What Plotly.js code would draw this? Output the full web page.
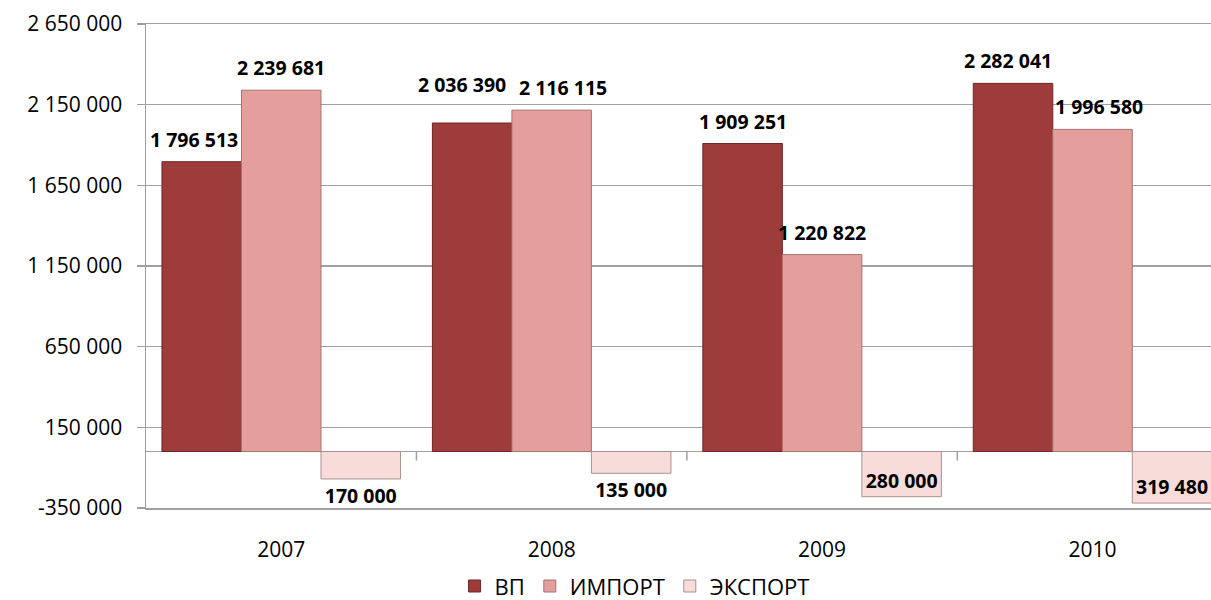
<!DOCTYPE html>
<html>
<head>
<meta charset="utf-8">
<script src="https://cdn.plot.ly/plotly-3.0.1.min.js"></script>
<style>html,body{margin:0;padding:0;background:#fff;}#chart{width:1211px;height:600px;}</style>
</head>
<body>
<div id="chart"></div>
<script>
var years = ["2007", "2008", "2009", "2010"];
var seriesNames = ["ВП", "ИМПОРТ", "ЭКСПОРТ"];
var vpValues = [1796513, 2036390, 1909251, 2282041];
var importValues = [2239681, 2116115, 1220822, 1996580];
var exportValues = [-170000, -135000, -280000, -319480];
var yTickValues = [-350000, 150000, 650000, 1150000, 1650000, 2150000, 2650000];

// label style tweaks (pixel nudges to avoid overlaps, as in the original)
var vpLabelLift = [0, 16, 0, 0];
var vpLabelNudge = [-8, -10, 0, -5];
var importLabelLift = [0, 0, 0, 0];
var importLabelNudge = [0, 11, 0, 6];

function fmt(v) {
  var s = String(Math.abs(Math.round(v)));
  var out = s.replace(/\B(?=(\d{3})+(?!\d))/g, " ");
  return (v < 0 ? "-" : "") + out;
}
function fmtAbs(v) { return fmt(Math.abs(v)); }

var FONT = "Open Sans, Liberation Sans, sans-serif";
var labelFont = {family: FONT, size: 19.5, color: "#000", weight: 700};
var BARGAP = 0.118;

var traces = [
  {
    type: "bar", name: seriesNames[0], x: years, y: vpValues,
    marker: {color: "#9E3B3B", line: {color: "#6E2626", width: 1}},
    hoverinfo: "skip"
  },
  {
    type: "bar", name: seriesNames[1], x: years, y: importValues,
    marker: {color: "#E49F9D", line: {color: "#A87270", width: 1}},
    hoverinfo: "skip"
  },
  {
    type: "bar", name: seriesNames[2], x: years, y: exportValues,
    text: exportValues.map(fmtAbs), textposition: ["outside", "outside", "inside", "inside"],
    insidetextanchor: "end", texttemplate: "<b>%{text}</b>",
    textfont: labelFont, insidetextfont: labelFont, outsidetextfont: labelFont,
    constraintext: "none", cliponaxis: false,
    marker: {color: "#F8DCDA", line: {color: "#A89190", width: 1}},
    hoverinfo: "skip"
  }
];

// value labels for the positive series, placed via the axes
var annotations = [];
var barW = (1 - BARGAP) / 3;
[[vpValues, vpLabelLift, vpLabelNudge, -1], [importValues, importLabelLift, importLabelNudge, 0]].forEach(function (s) {
  s[0].forEach(function (v, i) {
    annotations.push({
      xref: "x", yref: "y", x: i + s[3] * barW, y: v,
      text: "<b>" + fmtAbs(v) + "</b>", showarrow: false,
      xanchor: "center", yanchor: "bottom", yshift: 7 + s[1][i], xshift: s[2][i],
      font: labelFont
    });
  });
});

var shapes = [];
for (var i = 1; i < years.length; i++) {
  shapes.push({
    type: "line", xref: "x", yref: "y", x0: i - 0.5, x1: i - 0.5,
    ysizemode: "pixel", yanchor: 0, y0: 0, y1: -9,
    line: {color: "#A0A0A0", width: 1.5}
  });
}

var layout = {
  width: 1211, height: 600,
  margin: {l: 146, r: 0, t: 24, b: 92, pad: 0},
  paper_bgcolor: "#fff", plot_bgcolor: "#fff",
  barmode: "group", bargap: BARGAP, bargroupgap: 0,
  font: {family: FONT, size: 21, color: "#000"},
  xaxis: {
    type: "category", range: [-0.5, 3.438],
    showgrid: false, zeroline: false,
    showline: true, mirror: true, linecolor: "#A0A0A0", linewidth: 1.5,
    ticks: "", ticklabelstandoff: 22,
    tickfont: {family: FONT, size: 21, color: "#000"}
  },
  yaxis: {
    range: [yTickValues[0], yTickValues[yTickValues.length - 1]],
    tickmode: "array", tickvals: yTickValues, ticktext: yTickValues.map(fmt),
    showgrid: true, gridcolor: "#A0A0A0", gridwidth: 1.5,
    zeroline: true, zerolinecolor: "#A0A0A0", zerolinewidth: 1.5,
    showline: true, linecolor: "#A0A0A0", linewidth: 1.5,
    ticks: "outside", ticklen: 8, tickcolor: "#A0A0A0", tickwidth: 1.5,
    ticklabelstandoff: 10,
    tickfont: {family: FONT, size: 21, color: "#000"}
  },
  showlegend: true,
  legend: {
    orientation: "h", xref: "container", yref: "container",
    x: 0.524, xanchor: "center", y: 0.023, yanchor: "middle",
    font: {family: FONT, size: 22, color: "#000"},
    itemwidth: 30, traceorder: "normal"
  },
  annotations: annotations,
  shapes: shapes
};

Plotly.newPlot("chart", traces, layout, {staticPlot: true, displayModeBar: false});
</script>
</body>
</html>
